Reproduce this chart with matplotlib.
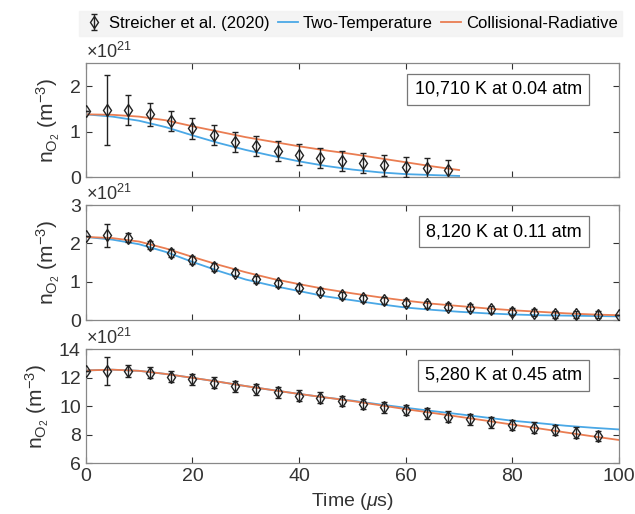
import numpy as np
import matplotlib.pyplot as plt
from matplotlib.lines import Line2D

plt.rcParams['font.family'] = ['Liberation Sans', 'DejaVu Sans']
plt.rcParams['mathtext.fontset'] = 'custom'
plt.rcParams['mathtext.rm'] = 'Liberation Sans'
plt.rcParams['mathtext.it'] = 'Liberation Sans:italic'

# measured data (x1e21 m^-3), time in us
t1 = np.arange(0, 69, 4)
n1 = [1.45, 1.47, 1.47, 1.38, 1.23, 1.07, 0.92, 0.78, 0.68, 0.58, 0.50, 0.43, 0.36, 0.31, 0.26, 0.23, 0.20, 0.17]
e1 = [0.0, 0.77, 0.33, 0.25, 0.22, 0.22, 0.22, 0.22, 0.22, 0.22, 0.22, 0.22, 0.22, 0.22, 0.22, 0.22, 0.22, 0.22]

t2 = np.arange(0, 101, 4)
n2 = [2.19, 2.22, 2.15, 1.96, 1.76, 1.57, 1.39, 1.24, 1.07, 0.96, 0.85, 0.74, 0.65, 0.57,
      0.52, 0.45, 0.41, 0.35, 0.32, 0.28, 0.22, 0.19, 0.16, 0.15, 0.14, 0.14]
e2 = [0.0, 0.30, 0.12, 0.10, 0.10, 0.10, 0.10, 0.10, 0.09, 0.09, 0.09, 0.09, 0.09, 0.09,
      0.09, 0.09, 0.09, 0.09, 0.09, 0.09, 0.09, 0.09, 0.09, 0.09, 0.09, 0.0]

t3 = np.arange(0, 97, 4)
n3 = [12.46, 12.47, 12.47, 12.34, 12.06, 11.87, 11.64, 11.40, 11.19, 10.96, 10.72, 10.58, 10.35,
      10.14, 9.90, 9.72, 9.49, 9.25, 9.07, 8.86, 8.67, 8.48, 8.32, 8.13, 7.90]
e3 = [0.0, 1.0, 0.42, 0.38, 0.38, 0.38, 0.38, 0.38, 0.38, 0.38, 0.38, 0.38, 0.38,
      0.38, 0.38, 0.38, 0.38, 0.38, 0.38, 0.38, 0.38, 0.38, 0.38, 0.38, 0.38]

# model curves
tm1 = np.arange(0, 71, 5)
tt1 = [1.38, 1.33, 1.24, 1.10, 0.92, 0.75, 0.60, 0.47, 0.35, 0.25, 0.17, 0.11, 0.07, 0.05, 0.03]
cr1 = [1.38, 1.37, 1.33, 1.25, 1.12, 1.00, 0.88, 0.78, 0.68, 0.59, 0.51, 0.42, 0.33, 0.24, 0.16]

tm2 = np.arange(0, 101, 5)
tt2 = [2.17, 2.10, 1.98, 1.78, 1.52, 1.28, 1.06, 0.90, 0.76, 0.62, 0.52, 0.42, 0.33, 0.27, 0.22,
       0.18, 0.15, 0.13, 0.12, 0.11, 0.10]
cr2 = [2.17, 2.14, 2.05, 1.87, 1.65, 1.44, 1.25, 1.08, 0.94, 0.81, 0.70, 0.60, 0.51, 0.43, 0.37,
       0.31, 0.26, 0.22, 0.18, 0.15, 0.13]

tm3 = np.arange(0, 101, 5)
tt3 = [12.50, 12.55, 12.47, 12.25, 11.98, 11.70, 11.40, 11.12, 10.85, 10.60, 10.38, 10.12, 9.88,
       9.65, 9.43, 9.20, 8.97, 8.80, 8.62, 8.48, 8.36]
cr3 = [12.50, 12.55, 12.47, 12.25, 11.98, 11.70, 11.40, 11.12, 10.85, 10.60, 10.35, 10.07, 9.78,
       9.52, 9.25, 8.98, 8.70, 8.43, 8.15, 7.88, 7.62]

labels = ['10,710 K at 0.04 atm', '8,120 K at 0.11 atm', '5,280 K at 0.45 atm']
ylims = [(0, 2.5), (0, 3), (6, 14)]
yticks = [[0, 1, 2], [0, 1, 2, 3], [6, 8, 10, 12, 14]]

blue = '#4aa8e6'
orange = '#ea7d52'

fig = plt.figure(figsize=(6.35, 5.14), dpi=100)
axes = [fig.add_axes([0.135, 0.655, 0.84, 0.222]),
        fig.add_axes([0.135, 0.377, 0.84, 0.224]),
        fig.add_axes([0.135, 0.099, 0.84, 0.222])]

data = [(t1, n1, e1, tm1, tt1, cr1), (t2, n2, e2, tm2, tt2, cr2), (t3, n3, e3, tm3, tt3, cr3)]

for i, ax in enumerate(axes):
    t, n, e, tm, tt, cr = data[i]
    l1, = ax.plot(tm, tt, color=blue, lw=1.3, zorder=2)
    l2, = ax.plot(tm, cr, color=orange, lw=1.3, zorder=2)
    eb = ax.errorbar(t, n, yerr=e, fmt='d', mfc='none', mec='#222222', ms=6, mew=1.0,
                     ecolor='#222222', elinewidth=1.0, capsize=2, zorder=3)
    if i == 0:
        handles = [eb, l1, l2]
    ax.set_xlim(0, 100)
    ax.set_ylim(*ylims[i])
    ax.set_yticks(yticks[i])
    ax.set_xticks([0, 20, 40, 60, 80, 100])
    if i < 2:
        ax.set_xticklabels([])
    ax.tick_params(direction='in', top=True, right=True, labelsize=14, colors='#333333',
                   length=4, width=0.8)
    for s in ax.spines.values():
        s.set_color('#888888')
        s.set_linewidth(0.9)
    ax.set_ylabel(r'n$_{\mathregular{O_2}}$ (m$^{\mathregular{-3}}$)', fontsize=15, color='#333333',
                  labelpad=6)
    ax.text(0.0, 1.01, r'$\times$10$^{21}$', transform=ax.transAxes, fontsize=13,
            color='#333333', va='bottom', ha='left')
    ax.text(0.93, 0.77, labels[i], transform=ax.transAxes, fontsize=13, ha='right', va='center',
            bbox=dict(boxstyle='square,pad=0.4', fc='white', ec='#777777', lw=0.9))

axes[2].set_xlabel(r'Time ($\mu$s)', fontsize=14, color='#333333', labelpad=4)

leg = fig.legend(handles, ['Streicher et al. (2020)', 'Two-Temperature', 'Collisional-Radiative'],
                 loc='upper center', bbox_to_anchor=(0.552, 0.995), ncol=3, frameon=True,
                 fontsize=12, handlelength=1.2, handletextpad=0.3, columnspacing=0.5,
                 borderpad=0.3, fancybox=False)
leg.get_frame().set_facecolor('#f2f2f2')
leg.get_frame().set_edgecolor('#f2f2f2')

fig.savefig('out.png', dpi=100)
